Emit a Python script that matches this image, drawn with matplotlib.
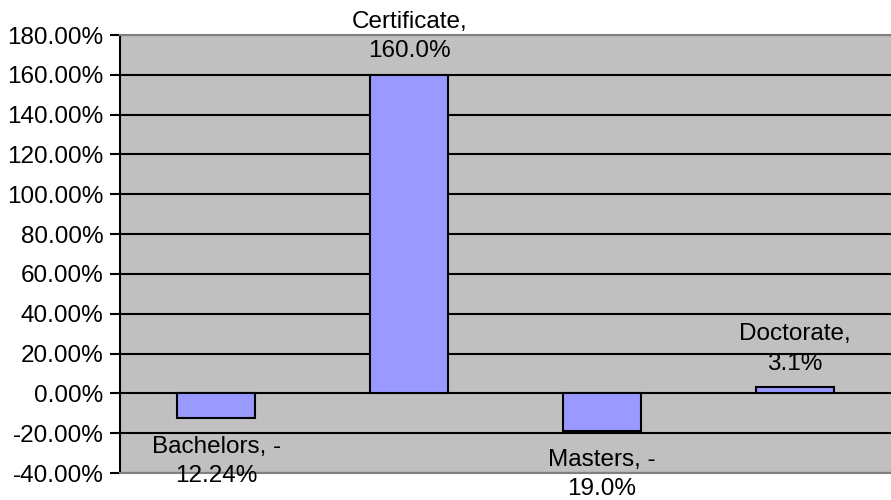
import matplotlib
matplotlib.use("Agg")
import matplotlib.pyplot as plt
import numpy as np

categories = ["Bachelors", "Certificate", "Masters", "Doctorate"]
values = [-12.24, 160.0, -19.0, 3.1]
value_texts = ["-\n12.24%", "\n160.0%", "-\n19.0%", "\n3.1%"]
yticks = [-40, -20, 0, 20, 40, 60, 80, 100, 120, 140, 160, 180]

plt.rcParams['font.family'] = ['Liberation Sans', 'DejaVu Sans']
fs = 17.5

fig = plt.figure(figsize=(8.91, 5.0), dpi=100)
ax = fig.add_axes([120/891, 27/500, 771/891, 438/500])
ax.set_facecolor('#C0C0C0')

x = np.arange(len(categories))
ax.bar(x, values, width=0.405, color='#9999FF', edgecolor='black', linewidth=1.5, zorder=3)

ax.set_xlim(-0.5, len(categories) - 0.5)
ax.set_ylim(-40, 180)
ax.set_yticks(yticks)
ax.set_yticklabels([f"{t:.2f}%" for t in yticks], fontsize=fs)
ax.set_xticks([])
ax.yaxis.grid(True, color='black', linewidth=1.5, zorder=1)
ax.set_axisbelow(True)
ax.tick_params(axis='y', length=7, width=1.5, direction='out', pad=5, color='black')

for s in ['top', 'bottom']:
    ax.spines[s].set_color('#808080')
    ax.spines[s].set_linewidth(1.5)
ax.spines['right'].set_visible(False)
ax.spines['left'].set_color('black')
ax.spines['left'].set_linewidth(1.5)

for xi, v, cat, vt in zip(x, values, categories, value_texts):
    first, second = vt.split("\n")
    label = f"{cat}, {first}".rstrip() + "\n" + second
    if v >= 0:
        ax.annotate(label, (xi, v), xytext=(0, 9), textcoords='offset points',
                    ha='center', va='bottom', fontsize=fs, linespacing=1.45,
                    annotation_clip=False, zorder=5)
    else:
        ax.annotate(label, (xi, v), xytext=(0, -13), textcoords='offset points',
                    ha='center', va='top', fontsize=fs, linespacing=1.4,
                    annotation_clip=False, zorder=5)

fig.savefig("out.png", dpi=100)
